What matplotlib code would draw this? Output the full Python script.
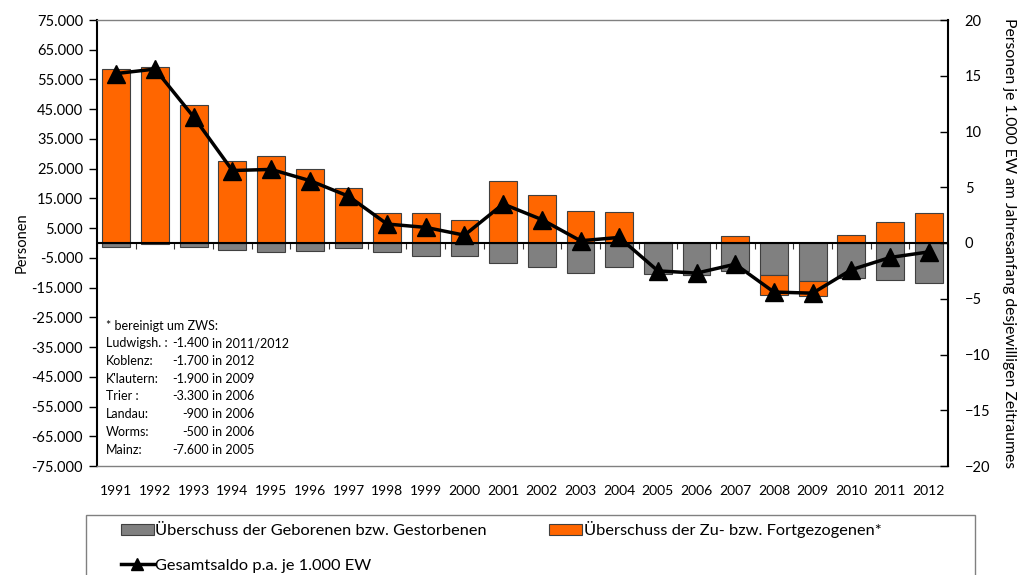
import matplotlib
matplotlib.use('Agg')

import matplotlib.pyplot as plt
import numpy as np
from matplotlib.ticker import FuncFormatter
from matplotlib.lines import Line2D
from matplotlib.patches import Patch, Rectangle

plt.rcParams['font.family'] = ['Lato', 'DejaVu Sans']

years = ['1991', '1992', '1993', '1994', '1995', '1996', '1997', '1998', '1999', '2000', '2001',
         '2002', '2003', '2004', '2005', '2006', '2007', '2008', '2009', '2010', '2011', '2012']

# Überschuss der Geborenen bzw. Gestorbenen (Personen)
natural = [-1300, -300, -1500, -2500, -3000, -2800, -1800, -3000, -4500, -4500, -6700,
           -8200, -10100, -8200, -10300, -10600, -9500, -10900, -12900, -11900, -12600, -13300]

# Überschuss der Zu- bzw. Fortgezogenen (Personen)
migration = [58500, 59300, 46300, 27700, 29300, 25000, 18400, 10000, 10100, 7700, 20700,
             16300, 10600, 10300, 400, -300, 2200, -6500, -4800, 2700, 6900, 10100]

# Gesamtsaldo p.a. je 1.000 EW
total_rate = [15.2, 15.6, 11.3, 6.5, 6.6, 5.6, 4.2, 1.7, 1.4, 0.7, 3.5,
              2.1, 0.2, 0.5, -2.5, -2.7, -1.9, -4.4, -4.5, -2.4, -1.3, -0.8]

note_names = ['Ludwigsh. :', 'Koblenz:', "K'lautern:", 'Trier :', 'Landau:', 'Worms:', 'Mainz:']
note_values = ['-1.400', '-1.700', '-1.900', '-3.300', '-900', '-500', '-7.600']
note_years = ['2011/2012', '2012', '2009', '2006', '2006', '2006', '2005']

GREY = '#808080'
ORANGE = '#FF6600'
EDGE = '#404040'

x = np.arange(len(years))
natural = np.array(natural)
migration = np.array(migration)
mig_bottom = np.where(migration < 0, natural, 0)

fig = plt.figure(figsize=(10.19, 5.75), dpi=100)
ax = fig.add_axes([97 / 1019, 1 - 466 / 575, 851 / 1019, 446 / 575])

ax.bar(x, natural, width=0.72, color=GREY, edgecolor=EDGE, linewidth=0.8, zorder=2)
ax.bar(x, migration, width=0.72, bottom=mig_bottom, color=ORANGE, edgecolor=EDGE,
       linewidth=0.8, zorder=2)
ax.axhline(0, color='black', linewidth=1.5, zorder=3)

ax.set_xlim(-0.5, len(years) - 0.5)
ax.set_ylim(-75000, 75000)
ax.set_yticks(np.arange(-75000, 75001, 10000))
ax.yaxis.set_major_formatter(FuncFormatter(lambda v, p: f'{int(v):,}'.replace(',', '.')))
ax.tick_params(axis='y', direction='out', length=6, width=1, labelsize=10.5, pad=4)
ax.set_xticks(x)
ax.set_xticklabels(years)
ax.tick_params(axis='x', length=0, labelsize=10, pad=14)
ax.set_ylabel('Personen', fontsize=10.5, labelpad=2)

for side in ['top', 'bottom']:
    ax.spines[side].set_color(GREY)
    ax.spines[side].set_linewidth(1)
ax.spines['left'].set_linewidth(1.5)
ax.spines['right'].set_visible(False)

# category boundary ticks on the zero line
sec = ax.secondary_xaxis(0.5)
sec.set_alignment('bottom')
sec.set_xticks(np.arange(-0.5, len(years), 1.0))
sec.set_xticklabels([])
sec.tick_params(direction='out', length=4, width=0.8, color='#333333')
for s in sec.spines.values():
    s.set_visible(False)

ax2 = ax.twinx()
ax2.plot(x, total_rate, color='black', linewidth=2.5, marker='^', markersize=13,
         markerfacecolor='black', markeredgecolor='black', zorder=5)
ax2.set_ylim(-20, 20)
ax2.set_yticks(np.arange(-20, 21, 5))
ax2.tick_params(axis='y', direction='in', length=6, width=1, labelsize=10.5, pad=12)
for side in ['top', 'bottom', 'left']:
    ax2.spines[side].set_visible(False)
ax2.spines['right'].set_linewidth(1.5)
ax2.set_ylabel('Personen je 1.000 EW am Jahresanfang desjewilligen Zeitraumes',
               fontsize=11.3, rotation=-90, va='center')
ax2.yaxis.set_label_coords(1.0715, 0.5)

# note on adjusted values
fs = 9
fig.text(106 / 1019, 1 - 326 / 575, '* bereinigt um ZWS:', fontsize=fs, va='center')
for i, (n, v, yv) in enumerate(zip(note_names, note_values, note_years)):
    yy = 1 - (343 + i * 17.8) / 575
    fig.text(106 / 1019, yy, n, fontsize=fs, va='center')
    fig.text(209 / 1019, yy, v, fontsize=fs, va='center', ha='right')
    fig.text(212 / 1019, yy, 'in ' + yv, fontsize=fs, va='center')

# legend frame (runs off the bottom edge like in the original)
fig.patches.append(Rectangle((86 / 1019, -0.05), (975 - 86) / 1019, 0.05 + 1 - 515 / 575,
                             transform=fig.transFigure, facecolor='white',
                             edgecolor=GREY, linewidth=1, zorder=0))

handles = [Patch(facecolor=GREY, edgecolor=EDGE, linewidth=0.8),
           Line2D([], [], color='black', linewidth=2.5, marker='^', markersize=8),
           Patch(facecolor=ORANGE, edgecolor=EDGE, linewidth=0.8)]
labels = ['Überschuss der Geborenen bzw. Gestorbenen', 'Gesamtsaldo p.a. je 1.000 EW',
          'Überschuss der Zu- bzw. Fortgezogenen*']
leg = fig.legend(handles, labels, ncol=2, loc='upper left',
                 bbox_to_anchor=(121 / 1019, 1 - 521 / 575), fontsize=11.8,
                 frameon=False, handlelength=2.0, handletextpad=0.1,
                 columnspacing=3.8, labelspacing=1.25, borderpad=0, borderaxespad=0)

fig.savefig('out.png', dpi=100)
plt.close(fig)
